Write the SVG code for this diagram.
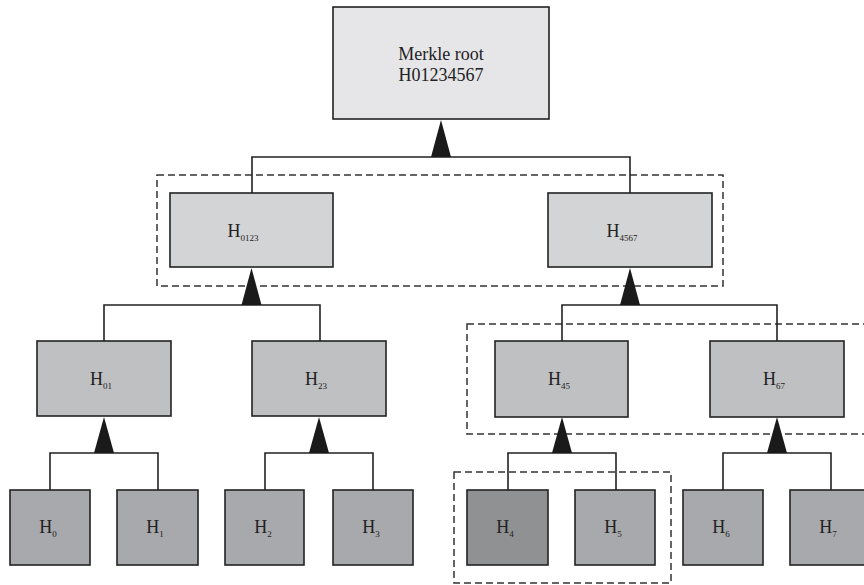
<svg xmlns="http://www.w3.org/2000/svg" width="864" height="585" viewBox="0 0 864 585">
<style>
.box{stroke:#222;stroke-width:1.6}
.l0{fill:#e6e6e8}.l1{fill:#d3d4d6}.l2{fill:#bfc0c2}.l3{fill:#a8a9ac}.l3d{fill:#909193}
.t{font-family:"Liberation Serif","Times New Roman",serif;font-size:18px;fill:#222;text-anchor:middle}
.sub{font-size:9px}
.ln{fill:none;stroke:#222;stroke-width:1.6}
.ar{fill:#1a1a1a}
.dash{fill:none;stroke:#333;stroke-width:1.5;stroke-dasharray:7,4}
</style>
<g id="groups">
<rect class="dash" x="157" y="175" width="566" height="111"/>
<rect class="dash" x="467" y="324" width="410" height="110"/>
<rect class="dash" x="454" y="472" width="217" height="111"/>
</g>
<g id="connectors">
<path class="ln" d="M252 193V157H630V193"/>
<polygon class="ar" points="441,120 451,157 431,157"/>
<path class="ln" d="M104 341V305H320V341"/>
<polygon class="ar" points="251.5,268 261.5,305 241.5,305"/>
<path class="ln" d="M562 341V305H777V341"/>
<polygon class="ar" points="630,268 640,305 620,305"/>
<path class="ln" d="M50 490V453H158V490"/>
<polygon class="ar" points="104,417 114,453 94,453"/>
<path class="ln" d="M265 490V453H373V490"/>
<polygon class="ar" points="319,417 329,453 309,453"/>
<path class="ln" d="M508 490V453H616V490"/>
<polygon class="ar" points="562,417 572,453 552,453"/>
<path class="ln" d="M723 490V453H831V490"/>
<polygon class="ar" points="777,417 787,453 767,453"/>
</g>
<g id="root">
<rect class="box l0" x="333" y="7" width="216" height="112"/>
<text class="t" x="441" y="60">Merkle root</text>
<text class="t" x="441" y="81">H01234567</text>
</g>
<g id="h0123">
<rect class="box l1" x="170" y="193" width="163" height="74"/>
<text class="t" x="243" y="237">H<tspan class="sub" dy="4">0123</tspan></text>
</g>
<g id="h4567">
<rect class="box l1" x="548" y="193" width="164" height="74"/>
<text class="t" x="622" y="237">H<tspan class="sub" dy="4">4567</tspan></text>
</g>
<g id="h01">
<rect class="box l2" x="37" y="341" width="134" height="75"/>
<text class="t" x="101" y="385">H<tspan class="sub" dy="4">01</tspan></text>
</g>
<g id="h23">
<rect class="box l2" x="252" y="341" width="134" height="75"/>
<text class="t" x="316" y="385">H<tspan class="sub" dy="4">23</tspan></text>
</g>
<g id="h45">
<rect class="box l2" x="495" y="341" width="133" height="76"/>
<text class="t" x="559" y="385">H<tspan class="sub" dy="4">45</tspan></text>
</g>
<g id="h67">
<rect class="box l2" x="710" y="341" width="134" height="76"/>
<text class="t" x="774" y="385">H<tspan class="sub" dy="4">67</tspan></text>
</g>
<g id="h0">
<rect class="box l3" x="10" y="490" width="80" height="75"/>
<text class="t" x="48" y="533">H<tspan class="sub" dy="4">0</tspan></text>
</g>
<g id="h1">
<rect class="box l3" x="117" y="490" width="81" height="75"/>
<text class="t" x="155" y="533">H<tspan class="sub" dy="4">1</tspan></text>
</g>
<g id="h2">
<rect class="box l3" x="225" y="490" width="79" height="75"/>
<text class="t" x="263" y="533">H<tspan class="sub" dy="4">2</tspan></text>
</g>
<g id="h3">
<rect class="box l3" x="333" y="490" width="80" height="75"/>
<text class="t" x="371" y="533">H<tspan class="sub" dy="4">3</tspan></text>
</g>
<g id="h4">
<rect class="box l3d" x="467" y="490" width="81" height="75"/>
<text class="t" x="505" y="533">H<tspan class="sub" dy="4">4</tspan></text>
</g>
<g id="h5">
<rect class="box l3" x="575" y="490" width="80" height="75"/>
<text class="t" x="613" y="533">H<tspan class="sub" dy="4">5</tspan></text>
</g>
<g id="h6">
<rect class="box l3" x="683" y="490" width="80" height="75"/>
<text class="t" x="721" y="533">H<tspan class="sub" dy="4">6</tspan></text>
</g>
<g id="h7">
<rect class="box l3" x="790" y="490" width="80" height="75"/>
<text class="t" x="828" y="533">H<tspan class="sub" dy="4">7</tspan></text>
</g>
</svg>
